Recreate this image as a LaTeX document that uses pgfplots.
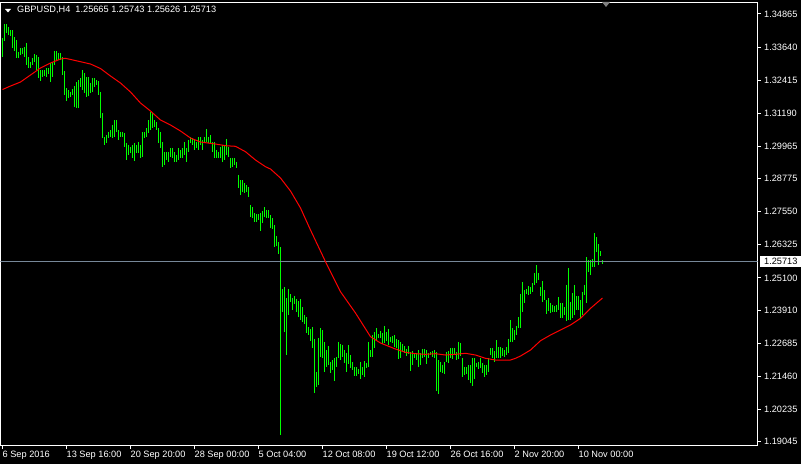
\documentclass[border=0pt]{standalone}
\usepackage{pgfplots}
\pgfplotsset{compat=1.18}
\usepackage{pgfplotstable}
\usepackage{fontspec}
\setmainfont{Liberation Sans}
\definecolor{mtgreen}{RGB}{0,255,0}
\definecolor{mtred}{RGB}{255,0,0}
\definecolor{bidgray}{RGB}{119,136,153}

\pgfplotstableread{
i h l
0 1.3397 1.3327
1 1.3449 1.3386
2 1.3449 1.3416
3 1.3438 1.3409
4 1.3427 1.3405
5 1.3427 1.3360
6 1.3401 1.3349
7 1.3390 1.3323
8 1.3346 1.3323
9 1.3360 1.3335
10 1.3360 1.3338
11 1.3364 1.3327
12 1.3379 1.3298
13 1.3327 1.3286
14 1.3309 1.3286
15 1.3323 1.3298
16 1.3338 1.3309
17 1.3335 1.3279
18 1.3327 1.3249
19 1.3279 1.3238
20 1.3279 1.3253
21 1.3279 1.3257
22 1.3286 1.3253
23 1.3286 1.3264
24 1.3305 1.3235
25 1.3309 1.3253
26 1.3349 1.3298
27 1.3349 1.3316
28 1.3342 1.3316
29 1.3342 1.3316
30 1.3327 1.3261
31 1.3275 1.3187
32 1.3212 1.3164
33 1.3205 1.3175
34 1.3198 1.3179
35 1.3209 1.3187
36 1.3220 1.3142
37 1.3235 1.3138
38 1.3242 1.3138
39 1.3249 1.3216
40 1.3279 1.3205
41 1.3268 1.3194
42 1.3253 1.3179
43 1.3253 1.3183
44 1.3231 1.3194
45 1.3249 1.3198
46 1.3249 1.3216
47 1.3242 1.3224
48 1.3238 1.3187
49 1.3198 1.3101
50 1.3120 1.3027
51 1.3031 1.3002
52 1.3039 1.3009
53 1.3050 1.3027
54 1.3057 1.3031
55 1.3076 1.3027
56 1.3094 1.3031
57 1.3094 1.3050
58 1.3057 1.3020
59 1.3050 1.3031
60 1.3050 1.3031
61 1.3046 1.2994
62 1.3009 1.2946
63 1.3002 1.2965
64 1.2994 1.2972
65 1.3002 1.2953
66 1.3009 1.2942
67 1.3002 1.2972
68 1.3013 1.2972
69 1.3002 1.2953
70 1.3050 1.2957
71 1.3050 1.3027
72 1.3064 1.3031
73 1.3094 1.3046
74 1.3124 1.3057
75 1.3120 1.3064
76 1.3094 1.3068
77 1.3087 1.3057
78 1.3064 1.3009
79 1.3050 1.2990
80 1.3013 1.2920
81 1.2976 1.2928
82 1.2976 1.2946
83 1.2976 1.2939
84 1.2990 1.2957
85 1.2990 1.2953
86 1.2976 1.2939
87 1.2965 1.2939
88 1.2990 1.2946
89 1.2983 1.2953
90 1.2990 1.2953
91 1.3013 1.2965
92 1.2990 1.2939
93 1.3020 1.2976
94 1.3031 1.3009
95 1.3027 1.3002
96 1.3020 1.2983
97 1.3013 1.2990
98 1.3031 1.2983
99 1.3031 1.3002
100 1.3020 1.2983
101 1.3031 1.3009
102 1.3061 1.3013
103 1.3031 1.3009
104 1.3039 1.3009
105 1.3013 1.2976
106 1.3013 1.2953
107 1.2983 1.2953
108 1.2976 1.2953
109 1.2994 1.2953
110 1.3002 1.2939
111 1.3002 1.2946
112 1.3024 1.2965
113 1.2994 1.2957
114 1.2953 1.2916
115 1.2953 1.2920
116 1.2953 1.2928
117 1.2939 1.2916
118 1.2891 1.2842
119 1.2872 1.2817
120 1.2872 1.2828
121 1.2861 1.2824
122 1.2854 1.2828
123 1.2846 1.2809
124 1.2780 1.2735
125 1.2772 1.2731
126 1.2750 1.2717
127 1.2746 1.2717
128 1.2746 1.2724
129 1.2750 1.2683
130 1.2757 1.2713
131 1.2772 1.2735
132 1.2761 1.2731
133 1.2761 1.2731
134 1.2743 1.2694
135 1.2731 1.2691
136 1.2706 1.2624
137 1.2665 1.2628
138 1.2643 1.2598
139 1.2624 1.1929
140 1.2468 1.2384
141 1.2476 1.2310
142 1.2435 1.2225
143 1.2468 1.2373
144 1.2450 1.2421
145 1.2435 1.2391
146 1.2443 1.2413
147 1.2432 1.2384
148 1.2424 1.2365
149 1.2432 1.2354
150 1.2402 1.2347
151 1.2373 1.2339
152 1.2365 1.2306
153 1.2328 1.2299
154 1.2321 1.2276
155 1.2328 1.2250
156 1.2284 1.2084
157 1.2162 1.2106
158 1.2287 1.2114
159 1.2324 1.2217
160 1.2317 1.2213
161 1.2273 1.2162
162 1.2243 1.2180
163 1.2258 1.2188
164 1.2199 1.2158
165 1.2206 1.2169
166 1.2213 1.2128
167 1.2217 1.2180
168 1.2273 1.2213
169 1.2265 1.2206
170 1.2262 1.2217
171 1.2243 1.2195
172 1.2232 1.2162
173 1.2262 1.2191
174 1.2225 1.2176
175 1.2199 1.2169
176 1.2180 1.2147
177 1.2180 1.2147
178 1.2173 1.2154
179 1.2199 1.2136
180 1.2180 1.2151
181 1.2202 1.2143
182 1.2195 1.2176
183 1.2273 1.2180
184 1.2243 1.2217
185 1.2298 1.2217
186 1.2310 1.2250
187 1.2324 1.2280
188 1.2302 1.2287
189 1.2313 1.2287
190 1.2306 1.2265
191 1.2332 1.2269
192 1.2310 1.2276
193 1.2321 1.2262
194 1.2291 1.2273
195 1.2295 1.2269
196 1.2299 1.2254
197 1.2284 1.2250
198 1.2280 1.2210
199 1.2273 1.2213
200 1.2265 1.2236
201 1.2258 1.2232
202 1.2247 1.2221
203 1.2258 1.2228
204 1.2236 1.2165
205 1.2239 1.2188
206 1.2232 1.2213
207 1.2232 1.2206
208 1.2243 1.2180
209 1.2232 1.2188
210 1.2247 1.2213
211 1.2247 1.2217
212 1.2243 1.2191
213 1.2232 1.2213
214 1.2236 1.2225
215 1.2239 1.2217
216 1.2243 1.2213
217 1.2236 1.2091
218 1.2206 1.2080
219 1.2199 1.2162
220 1.2188 1.2158
221 1.2199 1.2154
222 1.2236 1.2199
223 1.2239 1.2195
224 1.2250 1.2213
225 1.2250 1.2210
226 1.2250 1.2225
227 1.2236 1.2206
228 1.2273 1.2210
229 1.2269 1.2221
230 1.2213 1.2143
231 1.2180 1.2151
232 1.2180 1.2154
233 1.2188 1.2132
234 1.2188 1.2121
235 1.2213 1.2110
236 1.2213 1.2136
237 1.2195 1.2180
238 1.2199 1.2173
239 1.2213 1.2176
240 1.2195 1.2158
241 1.2188 1.2143
242 1.2188 1.2151
243 1.2213 1.2162
244 1.2250 1.2225
245 1.2250 1.2213
246 1.2239 1.2199
247 1.2280 1.2213
248 1.2254 1.2213
249 1.2254 1.2213
250 1.2250 1.2221
251 1.2243 1.2217
252 1.2254 1.2225
253 1.2284 1.2232
254 1.2354 1.2273
255 1.2324 1.2273
256 1.2317 1.2280
257 1.2332 1.2299
258 1.2365 1.2324
259 1.2450 1.2324
260 1.2495 1.2384
261 1.2465 1.2417
262 1.2468 1.2450
263 1.2480 1.2447
264 1.2476 1.2450
265 1.2491 1.2458
266 1.2528 1.2484
267 1.2557 1.2491
268 1.2528 1.2502
269 1.2476 1.2443
270 1.2498 1.2421
271 1.2465 1.2428
272 1.2428 1.2376
273 1.2435 1.2387
274 1.2417 1.2380
275 1.2410 1.2384
276 1.2406 1.2384
277 1.2410 1.2384
278 1.2439 1.2391
279 1.2417 1.2361
280 1.2417 1.2361
281 1.2402 1.2373
282 1.2484 1.2350
283 1.2546 1.2354
284 1.2421 1.2354
285 1.2454 1.2361
286 1.2484 1.2373
287 1.2443 1.2391
288 1.2443 1.2391
289 1.2428 1.2361
290 1.2458 1.2373
291 1.2484 1.2447
292 1.2587 1.2417
293 1.2576 1.2532
294 1.2576 1.2521
295 1.2580 1.2550
296 1.2676 1.2550
297 1.2661 1.2606
298 1.2635 1.2557
299 1.2609 1.2591
300 1.25743 1.25626
}\bars

\pgfplotstableread{
i ma
0 1.32068
4 1.32198
9 1.32346
14 1.32605
19 1.32864
24 1.33049
29 1.33197
31.5 1.33223
39 1.33097
44 1.33012
49 1.32845
54 1.32568
59 1.32309
64 1.31976
69 1.31569
74 1.31273
79 1.30940
84 1.30755
89 1.30533
94 1.30274
99 1.30126
106.5 1.30052
111.5 1.29989
116.5 1.29967
121.5 1.29767
126.5 1.29460
131.5 1.29212
134 1.29127
139 1.28794
144 1.28313
149 1.27684
154 1.26870
161.5 1.25697
169 1.24587
176.5 1.23799
184 1.22922
189 1.22689
196.5 1.22467
201.5 1.22345
206.5 1.22293
211.5 1.22271
216.5 1.22293
221.5 1.22245
226.5 1.22271
231.5 1.22308
236.5 1.22245
241.5 1.22123
246.5 1.22060
254 1.22060
256.5 1.22123
259 1.22208
264 1.22430
269 1.22774
274 1.22985
279 1.23170
284 1.23355
289 1.23603
294 1.23973
300 1.24354
}\ma

\begin{document}
\begin{tikzpicture}[x=1pt,y=1pt]
\useasboundingbox (0,0) rectangle (801,464);
\fill[black] (0,0) rectangle (801,464);
\begin{axis}[
  at={(0.5pt,18.5pt)}, anchor=south west,
  scale only axis, width=757pt, height=443pt,
  xmin=-1, xmax=377.5, ymin=1.18897, ymax=1.35288,
  axis line style={white, line width=1pt},
  tick style={white, line width=1pt},
  tick align=outside, major tick length=3pt,
  xtick pos=bottom, ytick pos=right, yticklabel pos=right,
  xtick={0,32,64,96,128,160,192,224,256,288},
  xticklabels={6 Sep 2016,13 Sep 16:00,20 Sep 20:00,28 Sep 00:00,5 Oct 04:00,12 Oct 08:00,19 Oct 12:00,26 Oct 16:00,2 Nov 20:00,10 Nov 00:00},
  ytick={1.34865,1.33640,1.32415,1.31190,1.29965,1.28775,1.27550,1.26325,1.25100,1.23910,1.22685,1.21460,1.20235,1.19045},
  yticklabels={1.34865,1.33640,1.32415,1.31190,1.29965,1.28775,1.27550,1.26325,1.25100,1.23910,1.22685,1.21460,1.20235,1.19045},
  tick label style={text=white, font=\fontsize{9.2}{11}\selectfont},
  xticklabel style={anchor=base west, inner sep=0pt, yshift=-8.8pt},
  yticklabel style={anchor=west, inner sep=0pt, xshift=3.5pt},
]
\addplot[draw=none, mark=none,
  error bars/.cd, y dir=minus, y explicit, error mark=none,
  error bar style={draw=mtgreen, line width=1pt}]
  table[x=i, y=h, y error minus expr={\thisrow{h}-\thisrow{l}}] {\bars};
\addplot[bidgray, line width=1pt] coordinates {(-1,1.25713) (377.5,1.25713)};
\addplot[mtred, line width=1pt] table[x=i, y=ma] {\ma};
\end{axis}
\fill[white] (760,197) rectangle (801,208);
\node[anchor=west, inner sep=0pt, text=black, font=\fontsize{9.2}{11}\selectfont] at (764,202.5) {1.25713};
\fill[white] (5,455) -- (11,455) -- (8,451.5) -- cycle;
\node[anchor=west, inner sep=0pt, text=white, font=\fontsize{9.2}{11}\selectfont] at (17,453.7) {GBPUSD,H4\ \ 1.25665 1.25743 1.25626 1.25713};
\fill[gray] (602,462) -- (610,462) -- (606,457) -- cycle;
\end{tikzpicture}
\end{document}
